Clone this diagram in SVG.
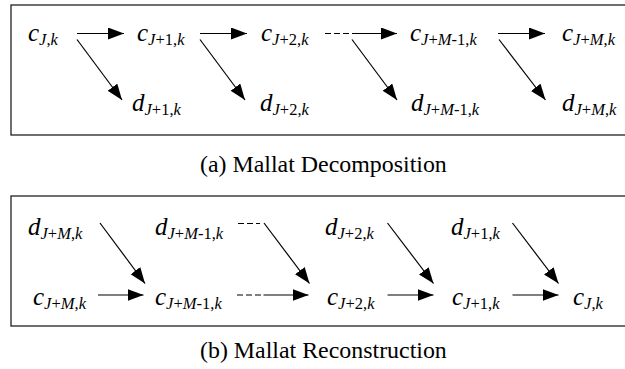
<svg xmlns="http://www.w3.org/2000/svg" width="625" height="369" viewBox="0 0 625 369">
<style>
.frame{fill:none;stroke:#222;stroke-width:1.3}
.m{font-family:'Liberation Serif',Tinos,'Times New Roman',Times,'DejaVu Serif',serif;font-size:25px;font-style:italic;fill:#000}
.s{font-size:16.5px}
.r{font-style:normal}
.cap{font-family:'Liberation Serif',Tinos,'Times New Roman',Times,'DejaVu Serif',serif;font-size:23.9px;fill:#000}
.ln{stroke:#000;stroke-width:1.2;fill:none}
.ar{marker-end:url(#ah)}
.dash{stroke:#000;stroke-width:1.2;stroke-dasharray:6 3;fill:none}
</style>
<defs>
<marker id="ah" markerUnits="userSpaceOnUse" markerWidth="17" markerHeight="13" refX="16" refY="6" orient="auto" viewBox="0 0 17 13">
<path d="M0,0 L16,6 L0,12 z" fill="#000"/>
</marker>
</defs>
<rect class="frame" x="11" y="5" width="640" height="130"/>
<rect class="frame" x="11" y="196" width="640" height="130"/>
<text class="cap" x="200" y="172">(a) Mallat Decomposition</text>
<text class="cap" x="200" y="358">(b) Mallat Reconstruction</text>

<g id="a_cJ"><text class="m" x="28" y="41">c<tspan class="s" dy="4">J<tspan class="r">,</tspan>k</tspan></text></g>
<g id="a_cJ1"><text class="m" x="137" y="41">c<tspan class="s" dy="4">J<tspan class="r">+1,</tspan>k</tspan></text></g>
<g id="a_cJ2"><text class="m" x="261" y="41">c<tspan class="s" dy="4">J<tspan class="r">+2,</tspan>k</tspan></text></g>
<g id="a_cJM1"><text class="m" x="410" y="41">c<tspan class="s" dy="4">J<tspan class="r">+</tspan>M<tspan class="r">-1,</tspan>k</tspan></text></g>
<g id="a_cJM"><text class="m" x="562" y="41">c<tspan class="s" dy="4">J<tspan class="r">+</tspan>M<tspan class="r">,</tspan>k</tspan></text></g>
<g id="a_dJ1"><text class="m" x="132" y="111">d<tspan class="s" dy="4">J<tspan class="r">+1,</tspan>k</tspan></text></g>
<g id="a_dJ2"><text class="m" x="260" y="111">d<tspan class="s" dy="4">J<tspan class="r">+2,</tspan>k</tspan></text></g>
<g id="a_dJM1"><text class="m" x="411" y="111">d<tspan class="s" dy="4">J<tspan class="r">+</tspan>M<tspan class="r">-1,</tspan>k</tspan></text></g>
<g id="a_dJM"><text class="m" x="562" y="111">d<tspan class="s" dy="4">J<tspan class="r">+</tspan>M<tspan class="r">,</tspan>k</tspan></text></g>

<g id="b_dJM"><text class="m" x="28" y="235">d<tspan class="s" dy="4">J<tspan class="r">+</tspan>M<tspan class="r">,</tspan>k</tspan></text></g>
<g id="b_dJM1"><text class="m" x="155" y="235">d<tspan class="s" dy="4">J<tspan class="r">+</tspan>M<tspan class="r">-1,</tspan>k</tspan></text></g>
<g id="b_dJ2"><text class="m" x="325" y="235">d<tspan class="s" dy="4">J<tspan class="r">+2,</tspan>k</tspan></text></g>
<g id="b_dJ1"><text class="m" x="451" y="235">d<tspan class="s" dy="4">J<tspan class="r">+1,</tspan>k</tspan></text></g>
<g id="b_cJM"><text class="m" x="33" y="304.5">c<tspan class="s" dy="4">J<tspan class="r">+</tspan>M<tspan class="r">,</tspan>k</tspan></text></g>
<g id="b_cJM1"><text class="m" x="155" y="304.5">c<tspan class="s" dy="4">J<tspan class="r">+</tspan>M<tspan class="r">-1,</tspan>k</tspan></text></g>
<g id="b_cJ2"><text class="m" x="327" y="304.5">c<tspan class="s" dy="4">J<tspan class="r">+2,</tspan>k</tspan></text></g>
<g id="b_cJ1"><text class="m" x="452" y="304.5">c<tspan class="s" dy="4">J<tspan class="r">+1,</tspan>k</tspan></text></g>
<g id="b_cJ"><text class="m" x="573" y="304.5">c<tspan class="s" dy="4">J<tspan class="r">,</tspan>k</tspan></text></g>

<g id="connectors">
<line class="ln ar" x1="77" y1="33.5" x2="124" y2="33.5"/>
<line class="ln ar" x1="200" y1="33.5" x2="247" y2="33.5"/>
<line class="dash" x1="325" y1="33.5" x2="349" y2="33.5"/>
<line class="ln ar" x1="352" y1="33.5" x2="397" y2="33.5"/>
<line class="ln ar" x1="498" y1="33.5" x2="545" y2="33.5"/>
<line class="ln ar" x1="77" y1="39.5" x2="122" y2="100"/>
<line class="ln ar" x1="200" y1="39.5" x2="245" y2="100"/>
<line class="ln ar" x1="352" y1="39.5" x2="397" y2="100"/>
<line class="ln ar" x1="499" y1="39.5" x2="545.5" y2="100"/>

<line class="ln ar" x1="98" y1="295" x2="143.5" y2="295"/>
<line class="dash" x1="237" y1="295" x2="261" y2="295"/>
<line class="ln ar" x1="263.5" y1="295" x2="308.5" y2="295"/>
<line class="ln ar" x1="387.5" y1="295" x2="433.5" y2="295"/>
<line class="ln ar" x1="512.5" y1="295" x2="558.5" y2="295"/>
<line class="dash" x1="238" y1="223.5" x2="260" y2="223.5"/>
<line class="ln ar" x1="100" y1="223" x2="145" y2="283.5"/>
<line class="ln ar" x1="264" y1="223" x2="309.5" y2="283.5"/>
<line class="ln ar" x1="387.5" y1="223" x2="433.5" y2="283.5"/>
<line class="ln ar" x1="512.5" y1="223" x2="558.5" y2="283.5"/>
</g>
</svg>
